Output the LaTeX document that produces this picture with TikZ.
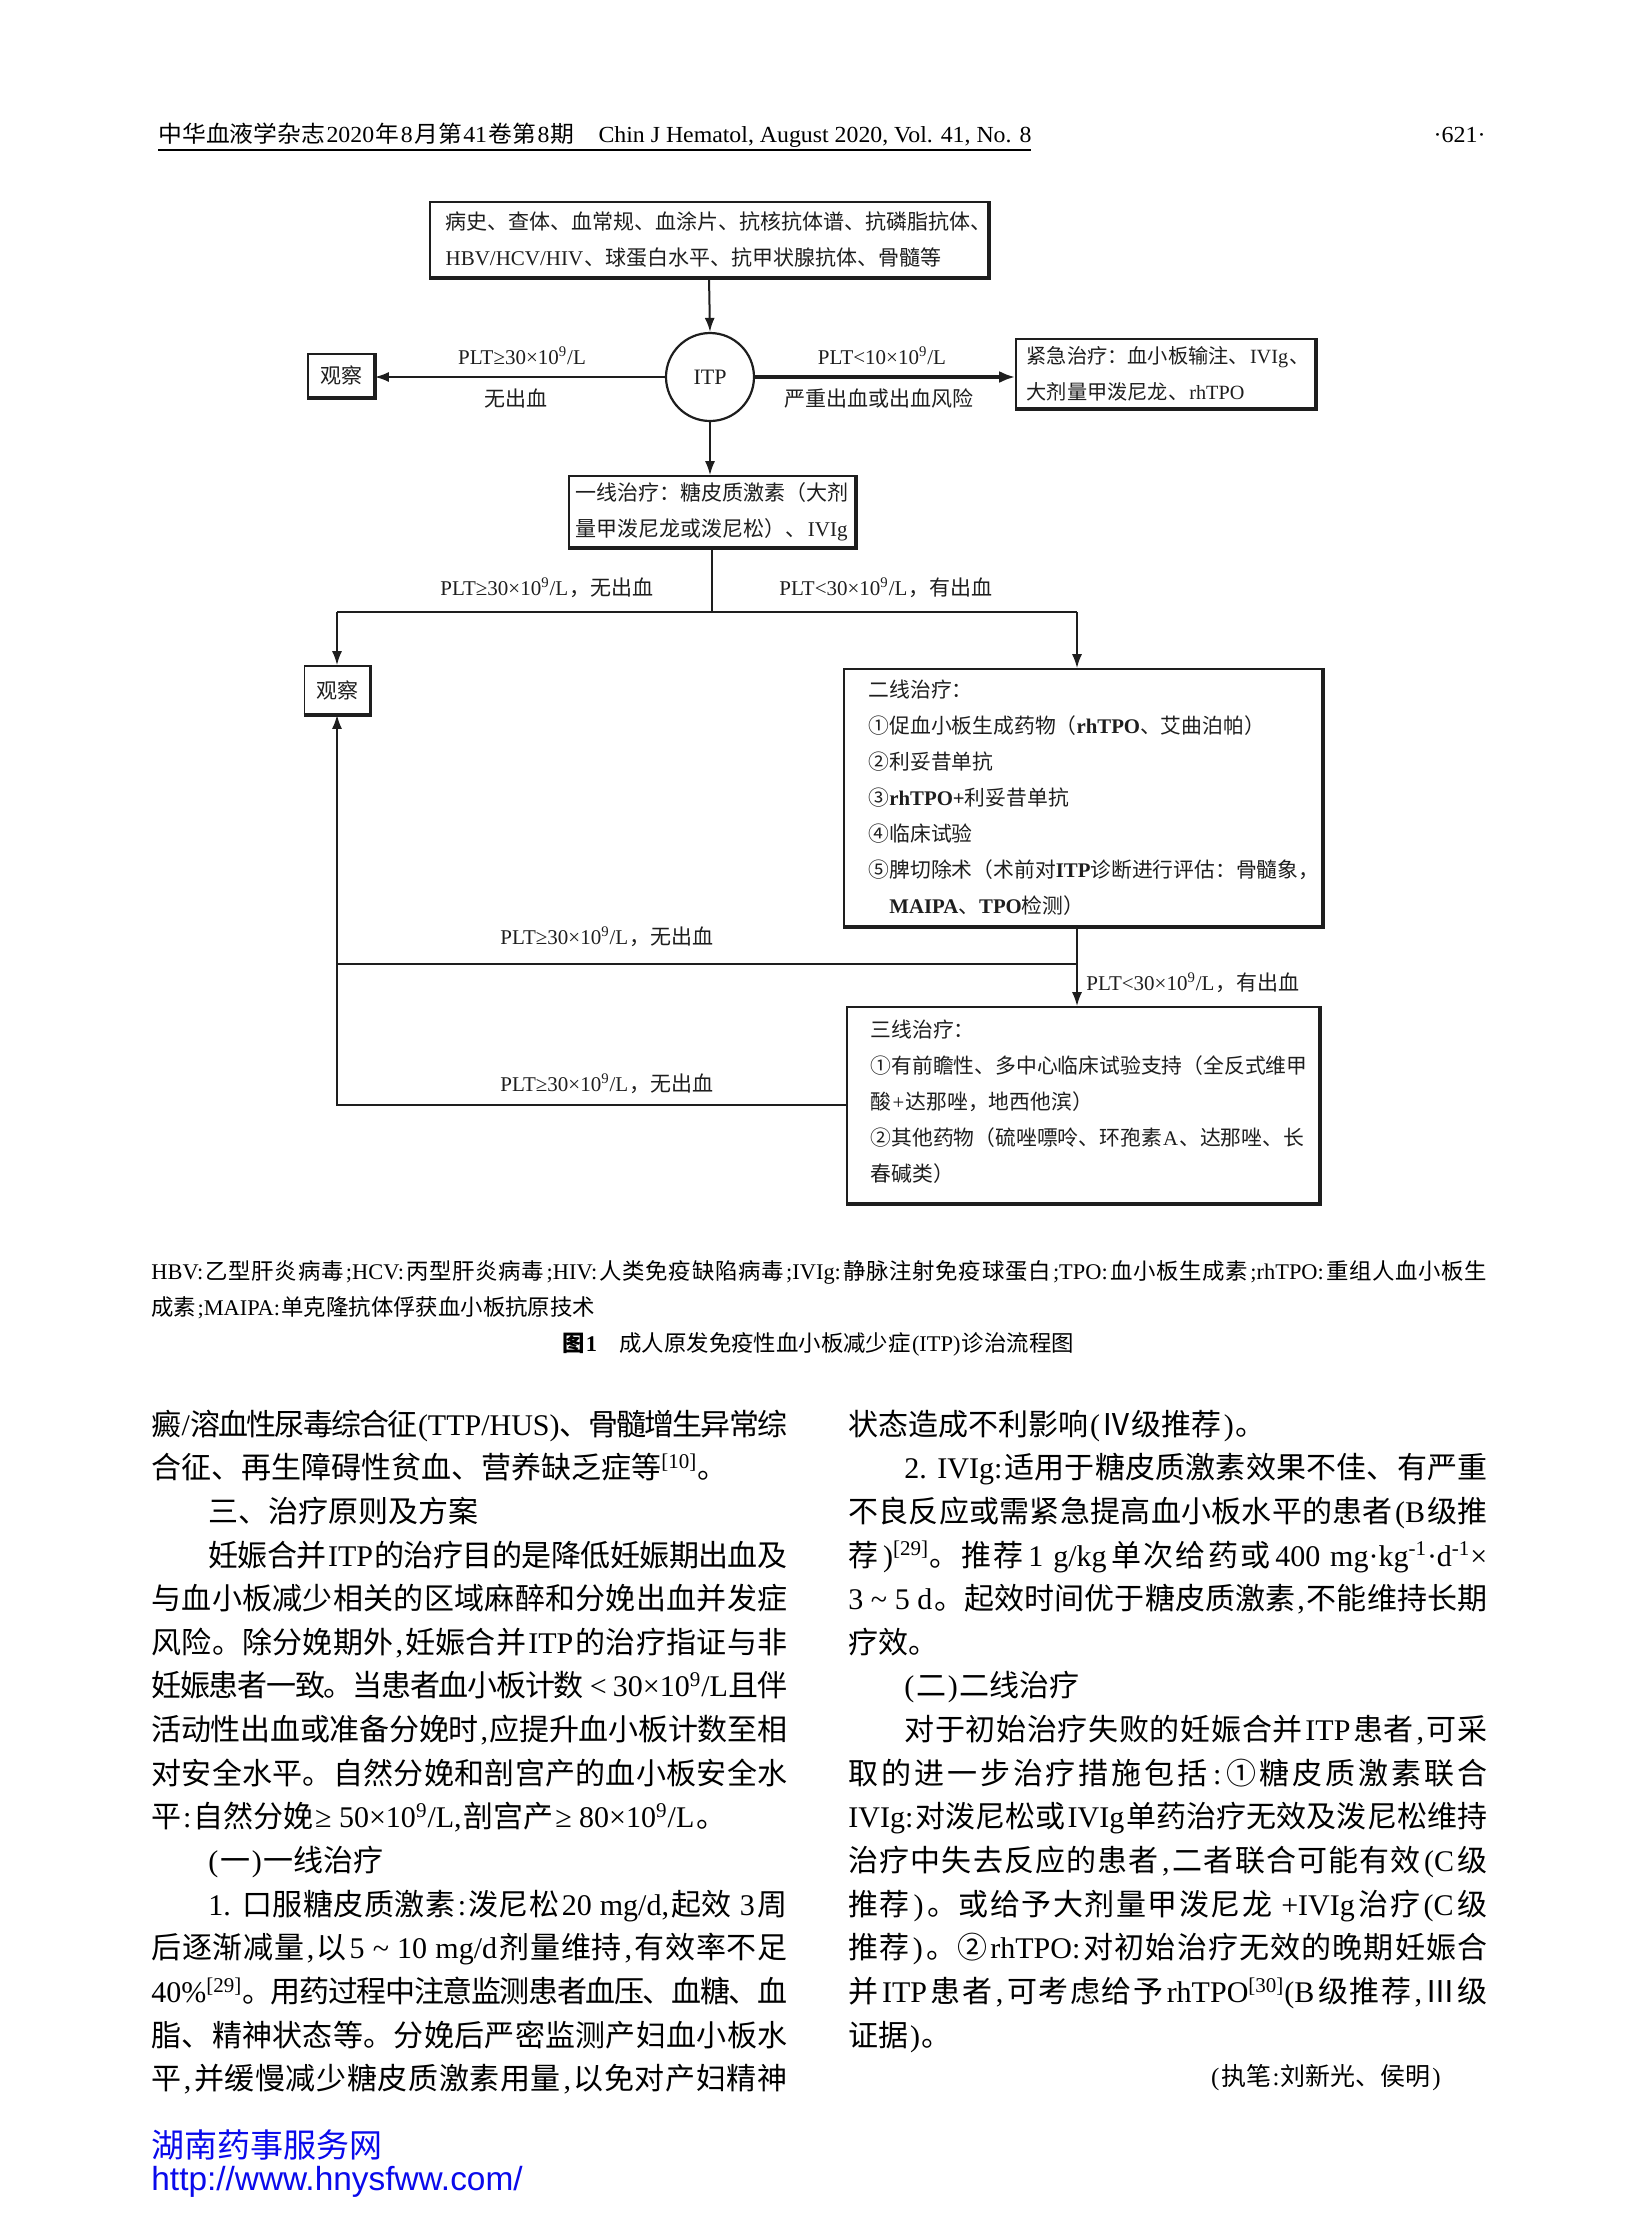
\documentclass[tikz,border=0pt]{standalone}
\usepackage{fontspec}
\usepackage{graphicx}
\usetikzlibrary{arrows.meta}
\setmainfont{Liberation Serif}
\newfontfamily\cjkf{Noto Sans CJK SC}
\newfontfamily\wsans{Liberation Sans}
\newcommand\latf{\rmfamily}
\XeTeXinterchartokenstate=1
\chardef\cjkclass=7
\newcount\cjkcnt
\newcommand\setcjkrange[2]{\cjkcnt=#1\relax\loop\XeTeXcharclass\cjkcnt=\cjkclass\advance\cjkcnt by 1\relax\ifnum\cjkcnt<#2\repeat}
\setcjkrange{"3000}{"A000}
\setcjkrange{"FF00}{"FFF0}
\setcjkrange{"2460}{"2500}
\setcjkrange{"2160}{"2180}
\XeTeXinterchartoks 0 \cjkclass = {\cjkf\hskip 0.06em plus 0.15em minus 0.06em\relax}
\XeTeXinterchartoks 4095 \cjkclass = {\cjkf}
\XeTeXinterchartoks \cjkclass 0 = {\latf\hskip 0.06em plus 0.15em minus 0.06em\relax}
\XeTeXinterchartoks \cjkclass 4095 = {\latf}
\XeTeXinterchartoks \cjkclass \cjkclass = {\hskip 0pt plus 0.12em minus 0.07em\relax}
\newcommand\tn{×10\textsuperscript{9}/L}
\definecolor{wmblue}{RGB}{10,10,235}
\definecolor{ink}{RGB}{30,30,30}
\tikzset{
  conn/.style={line width=1pt,draw=ink},
  arr/.style={conn,-{Latex[length=7pt,width=5pt]}},
  boxshape/.style={draw=ink,line width=0.8pt,rectangle,inner sep=0pt},
  flowtext/.style={inner sep=0pt,align=left,anchor=west,text=ink,font=\fontsize{10.5}{18}\selectfont},
  lbl/.style={inner sep=0pt,text=ink,font=\fontsize{10.5}{12}\selectfont},
  bodyln/.style={anchor=base west,inner sep=0pt,font=\fontsize{15}{18}\selectfont},
  captxt/.style={anchor=base west,inner sep=0pt,font=\fontsize{11.2}{13}\selectfont},
}
\begin{document}
\begin{tikzpicture}[x=0.5pt,y=-0.5pt]
\useasboundingbox (0,0) rectangle (1638,2213);
\fill[white] (0,0) rectangle (1638,2213);
% header
\node[anchor=west,inner sep=0pt] (hdr) at (158,135) {\resizebox{436.5pt}{\height}{\fontsize{11.5}{12}\selectfont 中华血液学杂志2020年8月第41卷第8期\quad Chin J Hematol, August 2020, Vol. 41, No. 8}};
\node[anchor=east,inner sep=0pt] (pg) at (1486,135) {\resizebox{26pt}{\height}{\fontsize{11.5}{12}\selectfont ·621·}};
\draw[line width=0.7pt] (158,150) -- (1031,150);
% flowchart boxes
\node[boxshape,minimum width=279pt,minimum height=37.5pt] (top) at (709,239.5) {};
\node[flowtext] (toptxt) at ([xshift=8pt]top.west) {病史、查体、血常规、血涂片、抗核抗体谱、抗磷脂抗体、\\HBV/HCV/HIV、球蛋白水平、抗甲状腺抗体、骨髓等};
\node[circle,draw=ink,line width=1.1pt,minimum size=44pt,inner sep=0pt,text=ink,font=\fontsize{11}{12}\selectfont] (itp) at (710,377) {ITP};
\node[boxshape,text=ink,font=\fontsize{10.5}{12}\selectfont,minimum width=33pt,minimum height=21.5pt] (obs1) at (341,375.5) {观察};
\node[boxshape,minimum width=149.5pt,minimum height=34.5pt] (emerg) at (1165.5,373.5) {};
\node[flowtext,font=\fontsize{10.1}{18}\selectfont] (emergtxt) at ([xshift=5.5pt]emerg.west) {紧急治疗：血小板输注、IVIg、\\大剂量甲泼尼龙、rhTPO};
\node[boxshape,minimum width=143pt,minimum height=35.5pt] (first) at (712,511.5) {};
\node[flowtext] (firsttxt) at ([xshift=3.5pt]first.west) {一线治疗：糖皮质激素（大剂\\量甲泼尼龙或泼尼松）、IVIg};
\node[boxshape,text=ink,font=\fontsize{10.5}{12}\selectfont,minimum width=32.5pt,minimum height=24pt] (obs2) at (337,690) {观察};
\node[boxshape,minimum width=239pt,minimum height=128.5pt] (second) at (1083,797.5) {};
\node[flowtext,font=\fontsize{10.4}{18}\selectfont] (secondtxt) at ([xshift=12.5pt]second.west) {二线治疗：\\①促血小板生成药物（\textbf{rhTPO}、艾曲泊帕）\\②利妥昔单抗\\③\textbf{rhTPO+}利妥昔单抗\\④临床试验\\⑤脾切除术（术前对\textbf{ITP}诊断进行评估：骨髓象，\\\hspace*{1em}\textbf{MAIPA}、\textbf{TPO}检测）};
\node[boxshape,minimum width=236pt,minimum height=98pt] (third) at (1083,1105) {};
\node[flowtext,font=\fontsize{10.4}{18}\selectfont] (thirdtxt) at ([xshift=12pt,yshift=1.5pt]third.west) {三线治疗：\\①有前瞻性、多中心临床试验支持（全反式维甲\\酸+达那唑，地西他滨）\\②其他药物（硫唑嘌呤、环孢素A、达那唑、长\\春碱类）};
\foreach \b in {top,emerg,first,second,third,obs1,obs2}
  \draw[draw=ink,line width=1.7pt] (\b.south west) -- (\b.south east) -- (\b.north east);
% connectors
\coordinate (j1) at (712,612);
\coordinate (jl) at (337,612);
\coordinate (jr) at (1077,612);
\coordinate (j2) at (1077,964);
\draw[arr] (top.south) -- (itp.north);
\draw[arr] (itp.west) -- (itp.west -| obs1.east);
\draw[draw=ink,line width=2pt,-{Latex[length=8pt,width=6pt]}] (itp.east) -- (itp.east -| emerg.west);
\draw[arr] (itp.south) -- (itp.south |- first.north);
\draw[conn] (first.south) -- (j1);
\draw[conn] (jl) -- (jr);
\draw[arr] (jl) -- (jl |- obs2.north);
\draw[arr] (jr) -- (jr |- second.north);
\draw[conn] (jr |- second.south) -- (j2);
\draw[arr] (j2) -- (j2 |- third.north);
\draw[conn] (j2) -- (j2 -| obs2.south);
\draw[arr] (third.west) -- (third.west -| obs2.south) -- (obs2.south);
\node[lbl] (a1) at (522,356) {PLT≥30\tn};
\node[lbl] (a2) at (516,398) {无出血};
\node[lbl] (a3) at (882,356) {PLT<10\tn};
\node[lbl] (a4) at (879,398) {严重出血或出血风险};
\node[lbl] (a5) at (547,588) {PLT≥30\tn，无出血};
\node[lbl] (a6) at (886,588) {PLT<30\tn，有出血};
\node[lbl] (a7) at (607,937) {PLT≥30\tn，无出血};
\node[lbl,anchor=west] (a8) at (1086,983) {PLT<30\tn，有出血};
\node[lbl] (a9) at (607,1084) {PLT≥30\tn，无出血};
% caption
\node[captxt] (c1) at (151,1279) {\makebox[668pt][s]{HBV:乙型肝炎病毒;HCV:丙型肝炎病毒;HIV:人类免疫缺陷病毒;IVIg:静脉注射免疫球蛋白;TPO:血小板生成素;rhTPO:重组人血小板生}};
\node[captxt] (c2) at (151,1315) {成素;MAIPA:单克隆抗体俘获血小板抗原技术};
\node[captxt,anchor=base] (c3) at (818,1351) {{\bfseries 图1}\quad 成人原发免疫性血小板减少症(ITP)诊治流程图};
% left column
\node[bodyln] (l1) at (151,1435) {\makebox[318pt][s]{癜/溶血性尿毒综合征(TTP/HUS)、骨髓增生异常综}};
\node[bodyln] (l2) at (151,1478.7) {合征、再生障碍性贫血、营养缺乏症等\textsuperscript{[10]}。};
\node[bodyln] (l3) at (208,1522.3) {三、治疗原则及方案};
\node[bodyln] (l4) at (208,1566) {\makebox[289.5pt][s]{妊娠合并ITP的治疗目的是降低妊娠期出血及}};
\node[bodyln] (l5) at (151,1609.6) {\makebox[318pt][s]{与血小板减少相关的区域麻醉和分娩出血并发症}};
\node[bodyln] (l6) at (151,1653.3) {\makebox[318pt][s]{风险。除分娩期外,妊娠合并ITP的治疗指证与非}};
\node[bodyln] (l7) at (151,1696.9) {\makebox[318pt][s]{妊娠患者一致。当患者血小板计数 < 30×10\textsuperscript{9}/L且伴}};
\node[bodyln] (l8) at (151,1740.6) {\makebox[318pt][s]{活动性出血或准备分娩时,应提升血小板计数至相}};
\node[bodyln] (l9) at (151,1784.2) {\makebox[318pt][s]{对安全水平。自然分娩和剖宫产的血小板安全水}};
\node[bodyln] (l10) at (151,1827.9) {平:自然分娩≥ 50×10\textsuperscript{9}/L,剖宫产≥ 80×10\textsuperscript{9}/L。};
\node[bodyln] (l11) at (208,1871.5) {(一)一线治疗};
\node[bodyln] (l12) at (208,1915.2) {\makebox[289.5pt][s]{1. 口服糖皮质激素:泼尼松20 mg/d,起效 3周}};
\node[bodyln] (l13) at (151,1958.8) {\makebox[318pt][s]{后逐渐减量,以5 \textasciitilde{} 10 mg/d剂量维持,有效率不足}};
\node[bodyln] (l14) at (151,2002.5) {\makebox[318pt][s]{40\%\textsuperscript{[29]}。用药过程中注意监测患者血压、血糖、血}};
\node[bodyln] (l15) at (151,2046.1) {\makebox[318pt][s]{脂、精神状态等。分娩后严密监测产妇血小板水}};
\node[bodyln] (l16) at (151,2089.8) {\makebox[318pt][s]{平,并缓慢减少糖皮质激素用量,以免对产妇精神}};
% right column
\node[bodyln] (r1) at (848,1435) {状态造成不利影响(Ⅳ级推荐)。};
\node[bodyln] (r2) at (904,1478.7) {\makebox[291.5pt][s]{2. IVIg:适用于糖皮质激素效果不佳、有严重}};
\node[bodyln] (r3) at (848,1522.3) {\makebox[319.5pt][s]{不良反应或需紧急提高血小板水平的患者(B级推}};
\node[bodyln] (r4) at (848,1566) {\makebox[319.5pt][s]{荐)\textsuperscript{[29]}。推荐1 g/kg单次给药或400 mg·kg\textsuperscript{-1}·d\textsuperscript{-1}×}};
\node[bodyln] (r5) at (848,1609.6) {\makebox[319.5pt][s]{3 \textasciitilde{} 5 d。起效时间优于糖皮质激素,不能维持长期}};
\node[bodyln] (r6) at (848,1653.3) {疗效。};
\node[bodyln] (r7) at (904,1696.9) {(二)二线治疗};
\node[bodyln] (r8) at (904,1740.6) {\makebox[291.5pt][s]{对于初始治疗失败的妊娠合并ITP患者,可采}};
\node[bodyln] (r9) at (848,1784.2) {\makebox[319.5pt][s]{取的进一步治疗措施包括:①糖皮质激素联合}};
\node[bodyln] (r10) at (848,1827.9) {\makebox[319.5pt][s]{IVIg:对泼尼松或IVIg单药治疗无效及泼尼松维持}};
\node[bodyln] (r11) at (848,1871.5) {\makebox[319.5pt][s]{治疗中失去反应的患者,二者联合可能有效(C级}};
\node[bodyln] (r12) at (848,1915.2) {\makebox[319.5pt][s]{推荐)。或给予大剂量甲泼尼龙 +IVIg治疗(C级}};
\node[bodyln] (r13) at (848,1958.8) {\makebox[319.5pt][s]{推荐)。②rhTPO:对初始治疗无效的晚期妊娠合}};
\node[bodyln] (r14) at (848,2002.5) {\makebox[319.5pt][s]{并ITP患者,可考虑给予rhTPO\textsuperscript{[30]}(B级推荐,Ⅲ级}};
\node[bodyln] (r15) at (848,2046.1) {证据)。};
\node[inner sep=0pt,font=\fontsize{12.5}{14}\selectfont] (r16) at (1326,2078) {(执笔:刘新光、侯明)};
% watermark
\node[anchor=west,inner sep=0pt,text=wmblue,font=\fontsize{16.5}{18}\selectfont] (w1) at (151,2145) {湖南药事服务网};
\node[anchor=west,inner sep=0pt,text=wmblue,font=\wsans\fontsize{16.7}{18}\selectfont] (w2) at (151,2182) {http://www.hnysfww.com/};
\end{tikzpicture}
\end{document}
